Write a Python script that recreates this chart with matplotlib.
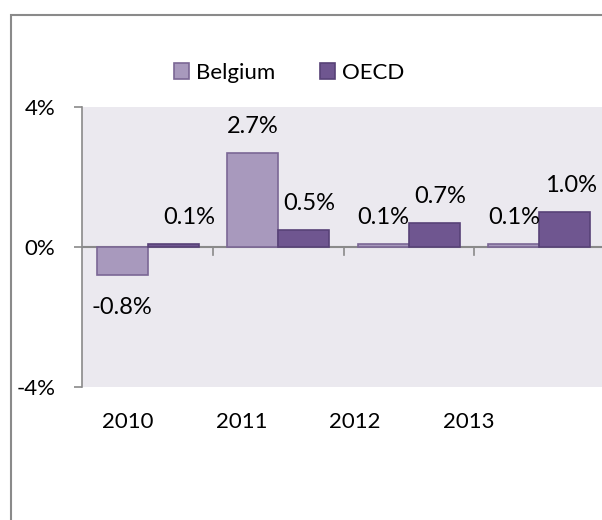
import numpy as np
import matplotlib
matplotlib.use("Agg")
import matplotlib.pyplot as plt
from matplotlib.patches import Rectangle

plt.rcParams['font.family'] = ['Lato', 'DejaVu Sans']

# データ
years = ["2010", "2011", "2012", "2013"]
belgium = [-0.8, 2.7, 0.1, 0.1]
oecd = [0.1, 0.5, 0.7, 1.0]
yticks = [-4, 0, 4]

col_bel = "#a899bd"
edge_bel = "#7b6795"
col_oecd = "#6f5690"
edge_oecd = "#584277"
grey = "#8a8a8a"

fig = plt.figure(figsize=(6.02, 5.2), dpi=100)

# 外枠
fig.patches.append(Rectangle((11 / 602, -0.1), 1.2, 1 - 15 / 520 + 0.1,
                             transform=fig.transFigure, fill=False,
                             edgecolor=grey, linewidth=1.5))

ax = fig.add_axes([82 / 602, 1 - 387 / 520, 522.5 / 602, 280 / 520])
ax.set_facecolor("#ebe9ef")

x = np.arange(len(years))
w = 0.39
ax.bar(x - w / 2, belgium, w, color=col_bel, edgecolor=edge_bel, linewidth=1.2, zorder=3)
ax.bar(x + w / 2, oecd, w, color=col_oecd, edgecolor=edge_oecd, linewidth=1.2, zorder=3)

ax.set_xlim(-0.504, len(years) - 0.5)
ax.set_ylim(-4, 4)

# ラベル
for xi, v in zip(x - w / 2, belgium):
    off = 26 if v >= 0 else -32
    ax.annotate(f"{v:.1f}%", (xi, v), xytext=(0, off), textcoords="offset pixels",
                ha="center", va="center", fontsize=17, zorder=4)
dx_oecd = [16, 6, 6, 6]
for xi, v, dx in zip(x + w / 2, oecd, dx_oecd):
    ax.annotate(f"{v:.1f}%", (xi, v), xytext=(dx, 26), textcoords="offset pixels",
                ha="center", va="center", fontsize=17, zorder=4)

# 軸
for s in ["top", "right", "bottom"]:
    ax.spines[s].set_visible(False)
ax.spines["left"].set_color(grey)
ax.spines["left"].set_linewidth(1.2)
ax.axhline(0, color=grey, linewidth=1.5, zorder=2)

ax.set_yticks(yticks)
ax.set_yticklabels([f"{t}%" for t in yticks], fontsize=16)
ax.tick_params(axis="y", length=6, width=1.2, color=grey, pad=13)

# 年ラベル (カテゴリ境界の目盛りとは別)
ax.set_xticks(np.arange(len(years)) * 0.87 - 0.151)
ax.set_xticklabels(years, fontsize=16)
ax.tick_params(axis="x", length=0, pad=18)
for b in np.arange(0.5, len(years) - 0.5):
    ax.plot([b, b], [0, -0.22], color=grey, linewidth=1.2, clip_on=False, zorder=2)

# 凡例
h1 = Rectangle((0, 0), 1, 1, facecolor=col_bel, edgecolor=edge_bel, linewidth=1.2)
h2 = Rectangle((0, 0), 1, 1, facecolor=col_oecd, edgecolor=edge_oecd, linewidth=1.2)
fig.legend([h1, h2], ["Belgium", "OECD"], loc="center", bbox_to_anchor=(0.48, 0.86),
           ncol=2, frameon=False, fontsize=16, handlelength=0.7, handleheight=0.7,
           handletextpad=0.3, columnspacing=2.0)

fig.savefig("out.png", dpi=100, facecolor="white")
